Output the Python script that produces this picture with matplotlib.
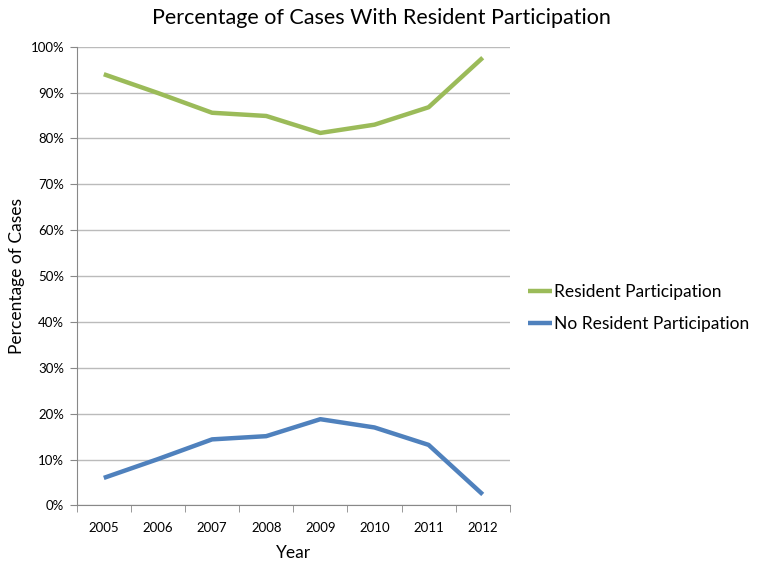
import numpy as np
import matplotlib.pyplot as plt
from matplotlib.ticker import FixedLocator, PercentFormatter

# data
years = ['2005', '2006', '2007', '2008', '2009', '2010', '2011', '2012']
resident = [94.0, 89.9, 85.6, 84.9, 81.2, 83.0, 86.8, 97.6]
no_resident = [6.0, 10.1, 14.4, 15.1, 18.8, 17.0, 13.2, 2.4]

plt.rcParams['font.family'] = ['Lato', 'DejaVu Sans']

fig = plt.figure(figsize=(7.62, 5.66), dpi=100)
ax = fig.add_axes([0.1007, 0.107, 0.5683, 0.8105])

x = np.arange(len(years))
l1, = ax.plot(x, resident, color='#9BBB59', lw=3.2, solid_capstyle='butt',
              label='Resident Participation')
l2, = ax.plot(x, no_resident, color='#4F81BD', lw=3.2, solid_capstyle='butt',
              label='No Resident Participation')

ax.set_xlim(-0.5, len(years) - 0.5)
ax.set_ylim(0, 100)
ax.set_yticks(np.arange(0, 101, 10))
ax.yaxis.set_major_formatter(PercentFormatter(decimals=0))
ax.set_xticks(x)
ax.set_xticklabels(years)
ax.xaxis.set_minor_locator(FixedLocator(np.arange(-0.5, len(years), 1)))
ax.tick_params(axis='x', which='major', length=0, pad=12, labelsize=9.5)
ax.tick_params(axis='x', which='minor', length=5, color='#888888')
ax.tick_params(axis='y', length=5, color='#888888', labelsize=9.5, pad=4)

ax.grid(axis='y', color='#BBBBBB', lw=1)
ax.set_axisbelow(True)
for s in ['top', 'right']:
    ax.spines[s].set_visible(False)
for s in ['left', 'bottom']:
    ax.spines[s].set_color('#888888')

ax.set_xlabel('Year', fontsize=12.5, labelpad=8)
ax.set_ylabel('Percentage of Cases', fontsize=12.5, labelpad=4)
fig.suptitle('Percentage of Cases With Resident Participation', fontsize=15.5, y=0.985)

fig.legend(handles=[l1, l2], loc='center left', bbox_to_anchor=(0.672, 0.456),
           frameon=False, fontsize=12.5, handlelength=1.4, handletextpad=0.1,
           labelspacing=0.95)

fig.savefig('out.png', dpi=100)
